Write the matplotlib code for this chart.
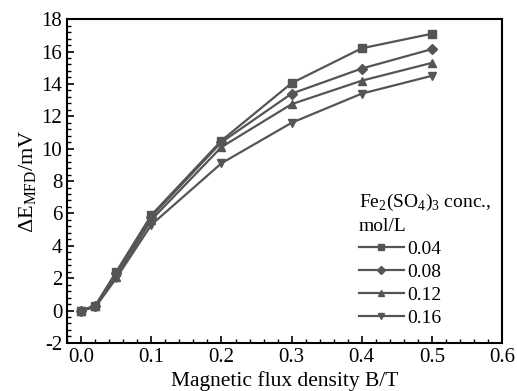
import numpy as np
import matplotlib.pyplot as plt
from matplotlib.ticker import MultipleLocator, AutoMinorLocator

plt.rcParams['font.family'] = 'Liberation Serif'
plt.rcParams['mathtext.fontset'] = 'custom'
plt.rcParams['mathtext.rm'] = 'Liberation Serif'
plt.rcParams['axes.unicode_minus'] = False

B = [0.0, 0.02, 0.05, 0.1, 0.2, 0.3, 0.4, 0.5]
conc = ['0.04', '0.08', '0.12', '0.16']
dE_004 = [0.0, 0.3, 2.4, 5.9, 10.5, 14.05, 16.2, 17.1]
dE_008 = [0.0, 0.3, 2.3, 5.8, 10.4, 13.4, 14.95, 16.15]
dE_012 = [0.0, 0.25, 2.1, 5.6, 10.1, 12.75, 14.2, 15.3]
dE_016 = [0.0, 0.2, 2.0, 5.3, 9.1, 11.6, 13.4, 14.5]
series = [dE_004, dE_008, dE_012, dE_016]
markers = ['s', 'D', '^', 'v']
msizes = [5.5, 5, 6, 6]

fig = plt.figure(figsize=(5.17, 3.91), dpi=100)
ax = fig.add_axes([0.13, 0.123, 0.841, 0.828])

col = '#555555'
for y, m, ms, lab in zip(series, markers, msizes, conc):
    ax.plot(B, y, color=col, marker=m, ms=ms, lw=1.6, label=lab)

ax.set_xlim(-0.02, 0.6)
ax.set_ylim(-2, 18)
ax.xaxis.set_minor_locator(AutoMinorLocator(5))
ax.yaxis.set_major_locator(MultipleLocator(2))
ax.yaxis.set_minor_locator(AutoMinorLocator(5))
xt = np.arange(0, 0.61, 0.1)
ax.set_xticks(xt)
ax.set_xticklabels(['%.1f' % v for v in xt])
ax.tick_params(which='both', direction='in', top=False, right=False, labelsize=15)
ax.tick_params(which='major', length=5, width=1.2)
ax.tick_params(which='minor', length=3, width=1)
for s in ax.spines.values():
    s.set_linewidth(1.5)

ax.set_xlabel('Magnetic flux density B/T', fontsize=15.5, labelpad=3)
ax.set_ylabel(r'$\Delta$E$_{\mathrm{MFD}}$/mV', fontsize=16, labelpad=2)

leg = ax.legend(title='Fe$_2$(SO$_4$)$_3$ conc.,\nmol/L', loc='upper left',
                frameon=False, fontsize=14, title_fontsize=14, handlelength=2.3,
                handletextpad=0.2, labelspacing=0.27, borderpad=0,
                markerscale=0.8, bbox_to_anchor=(0.649, 0.498))
leg._legend_box.align = 'left'
leg.get_title().set_linespacing(1.45)

fig.savefig('out.png', dpi=100)
